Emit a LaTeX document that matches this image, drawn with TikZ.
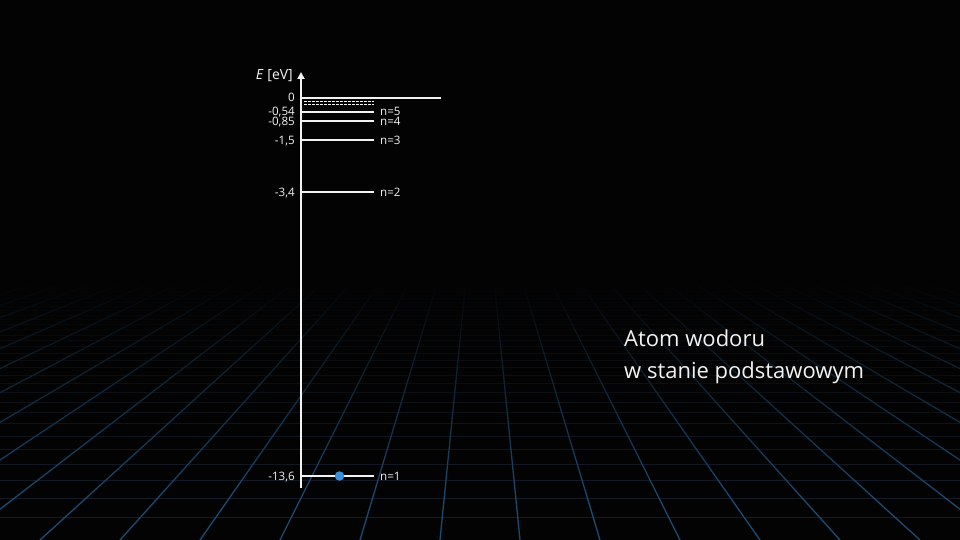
\documentclass[tikz,border=0pt]{standalone}
\usepackage{fontspec}
\setmainfont{Open Sans}
\usetikzlibrary{arrows.meta}

\definecolor{bgblack}{HTML}{030303}
\definecolor{gridblue}{HTML}{1C4B73}
\definecolor{gridgray}{HTML}{151C28}
\definecolor{dotblue}{HTML}{3A8FDA}
\definecolor{txtwhite}{HTML}{F2F2F2}

\newcommand\lblfont{\fontsize{11.6}{14}\selectfont}
\newcommand\titlefont{\fontsize{22}{31.6}\selectfont}

\begin{document}
\begin{tikzpicture}[x=1pt, y=-1pt,
    rayline/.style={gridblue, line width=1.3pt},
    rowline/.style={gridgray, line width=1pt},
    axisline/.style={txtwhite, line width=2pt},
    levelline/.style={txtwhite, line width=2pt},
    freeline/.style={txtwhite, line width=1.1pt, dash pattern=on 2.6pt off 1.4pt},
    lbl/.style={txtwhite, font=\lblfont, inner sep=0pt}]
    % background
    \fill[bgblack] (0,0) rectangle (960,540);
    \useasboundingbox (0,0) rectangle (960,540);

    % floor grid, vanishing point (480,140)
    \begin{scope}
        \clip (0,0) rectangle (960,540);
        \foreach \k in {0,...,30} {
            \pgfmathsetmacro\yy{140+400/(1+0.0584*\k)}
            \draw[rowline] (0,\yy) -- (960,\yy);
        }
        \foreach \j in {-23,...,22} {
            \pgfmathsetmacro\sl{(40*(2*\j+1))/400}
            \draw[rayline] ({480+\sl*400},540) -- ({480+\sl*142},282);
        }
        % fade towards the horizon
        \fill[bgblack] (-1,270) rectangle (961,280);
        \foreach \yb in {280,282,...,498} {
            \pgfmathsetmacro\op{1-(\yb+1-280)/220}
            \fill[bgblack, fill opacity=\op] (-1,\yb) rectangle (961,\yb+2);
        }
    \end{scope}

    % energy axis
    \coordinate (axbot) at (301,488);
    \coordinate (axtop) at (301,72);
    \draw[axisline, -{Triangle[width=7pt, length=7pt]}] (axbot) -- (axtop);
    \node[lbl, font=\fontsize{14}{16}\selectfont, anchor=base east] (elabel) at (293,80) {\textit{E} [eV]};

    % ionisation limit
    \coordinate (l0a) at (301,98);
    \coordinate (l0b) at (441,98);
    \draw[levelline] (l0a) -- (l0b);
    \node[lbl, anchor=base east] (e0) at (295,101.8) {0};

    % higher levels
    \coordinate (d1a) at (304,101.5);
    \coordinate (d1b) at (374,101.5);
    \coordinate (d2a) at (304,104.8);
    \coordinate (d2b) at (374,104.8);
    \draw[freeline] (d1a) -- (d1b);
    \draw[freeline] (d2a) -- (d2b);

    % bound levels
    \foreach \n/\y/\s/\e in {5/112/3.5/{-0,54}, 4/121/4.6/{-0,85}, 3/140/4.1/{-1,5}, 2/192/4.1/{-3,4}, 1/476/4.1/{-13,6}} {
        \coordinate (l\n a) at (301,\y);
        \coordinate (l\n b) at (374,\y);
        \draw[levelline] (l\n a) -- (l\n b);
        \node[lbl, anchor=base east] (e\n) at (295,\y+\s) {\e};
        \node[lbl, anchor=base west] (n\n) at (380,\y+\s) {n=\n};
    }

    % electron
    \node[circle, fill=dotblue, inner sep=0pt, minimum size=9.5pt] (electron) at (339.5,476) {};

    % title
    \node[txtwhite, font=\titlefont, inner sep=0pt, anchor=base west] (title1) at (624,346.7) {Atom wodoru};
    \node[txtwhite, font=\titlefont, inner sep=0pt, anchor=base west] (title2) at (624,378.3) {w stanie podstawowym};
\end{tikzpicture}
\end{document}
